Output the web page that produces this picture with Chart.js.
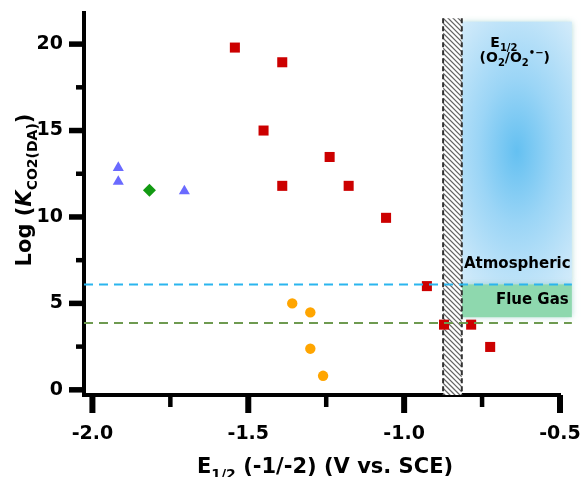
<!DOCTYPE html>
<html>
<head>
<meta charset="utf-8">
<script src="https://cdn.jsdelivr.net/npm/chart.js@4.4.1/dist/chart.umd.min.js"></script>
<style>
  html, body { margin: 0; padding: 0; background: #fff; }
  #wrap { width: 588px; height: 477px; position: relative; }
</style>
</head>
<body>
<div id="wrap"><canvas id="chart"></canvas></div>
<script>
// ---- values ----
const redX = [-1.543, -1.391, -1.451, -1.239, -1.391, -1.178, -1.058, -0.927, -0.872, -0.785, -0.724];
const redY = [19.8, 18.95, 15.0, 13.47, 11.8, 11.8, 9.95, 6.0, 3.77, 3.77, 2.48];
const blueX = [-1.917, -1.917, -1.705];
const blueY = [12.85, 12.05, 11.5];
const greenX = [-1.817];
const greenY = [11.55];
const orangeX = [-1.359, -1.301, -1.301, -1.26];
const orangeY = [5.0, 4.48, 2.38, 0.81];

const atmosphericLevel = 6.1;
const flueGasLevel = 3.87;
const flueGasBoxBottom = 4.2;
const o2BoxTop = 21.3;
const o2Band = [-0.875, -0.815];   // hatched E1/2(-1/-2) window
const o2BoxRight = -0.462;
const bandTop = 21.5;

const xTicks = [-2.0, -1.5, -1.0, -0.5];
const xMinor = [-1.75, -1.25, -0.75];
const yTicks = [0, 5, 10, 15, 20];
const yMinor = [2.5, 7.5, 12.5, 17.5];
const xRange = [-2.027, -0.5];
const yRange = [-0.3, 21.8];

const FONT = '"DejaVu Sans", "Liberation Sans", Arial, sans-serif';
const pts = (xs, ys) => xs.map((x, i) => ({ x, y: ys[i] }));

/* ---------- mixed text (sub/superscripts) ---------- */
function fontOf(r, size) {
  return `${r.i ? "italic " : ""}bold ${Math.round(size * (r.s || 1))}px ${FONT}`;
}
function drawRuns(ctx, runs, x, y, size, align) {
  let total = 0;
  runs.forEach((r) => { ctx.font = fontOf(r, size); total += ctx.measureText(r.t).width; });
  let cx = align === "center" ? x - total / 2 : align === "right" ? x - total : x;
  ctx.textAlign = "left";
  ctx.textBaseline = "alphabetic";
  runs.forEach((r) => {
    ctx.font = fontOf(r, size);
    ctx.fillText(r.t, cx, y + (r.dy || 0) * size);
    cx += ctx.measureText(r.t).width;
  });
}
const SUB = { s: 0.68, dy: 0.3 };

/* ---------- background boxes + hatched window ---------- */
const regionsPlugin = {
  id: "regions",
  beforeDatasetsDraw(chart) {
    const { ctx, scales: { x, y } } = chart;
    const bx0 = x.getPixelForValue(o2Band[1]);
    const bx1 = x.getPixelForValue(o2BoxRight);
    const top = y.getPixelForValue(o2BoxTop);
    const atm = y.getPixelForValue(atmosphericLevel);
    const flueB = y.getPixelForValue(flueGasBoxBottom);

    ctx.save();
    ctx.shadowColor = "rgba(150, 205, 200, 0.7)";
    ctx.shadowBlur = 6;
    // blue O2 region, soft radial glow
    const cx = (bx0 + bx1) / 2, cy = y.getPixelForValue(13.8);
    ctx.save();
    ctx.translate(cx, cy);
    ctx.scale(1, 1.9);
    const g = ctx.createRadialGradient(0, 0, 0, 0, 0, 85);
    g.addColorStop(0, "rgb(100, 192, 241)");
    g.addColorStop(0.45, "rgb(155, 213, 246)");
    g.addColorStop(1, "rgb(208, 234, 250)");
    ctx.fillStyle = g;
    ctx.fillRect(bx0 - cx, (top - cy) / 1.9, bx1 - bx0, (atm - top) / 1.9);
    ctx.restore();
    // flue gas band
    ctx.fillStyle = "rgb(142, 216, 174)";
    ctx.fillRect(bx0, atm, bx1 - bx0, flueB - atm);
    ctx.restore();

    // hatched window
    const hx0 = x.getPixelForValue(o2Band[0]);
    const hx1 = x.getPixelForValue(o2Band[1]);
    const hTop = y.getPixelForValue(bandTop);
    const hBot = y.getPixelForValue(yRange[0]);
    ctx.save();
    ctx.fillStyle = "#fff";
    ctx.fillRect(hx0, hTop, hx1 - hx0, hBot - hTop);
    ctx.beginPath();
    ctx.rect(hx0, hTop, hx1 - hx0, hBot - hTop);
    ctx.clip();
    ctx.strokeStyle = "#666";
    ctx.lineWidth = 1.3;
    ctx.beginPath();
    for (let k = hTop - 40; k < hBot + 40; k += 5) {
      ctx.moveTo(hx0, k);
      ctx.lineTo(hx1, k + (hx1 - hx0));
    }
    ctx.stroke();
    ctx.restore();
    ctx.save();
    ctx.strokeStyle = "#333";
    ctx.lineWidth = 2;
    ctx.setLineDash([5, 3]);
    ctx.beginPath();
    ctx.moveTo(hx0, hTop); ctx.lineTo(hx0, hBot);
    ctx.moveTo(hx1, hTop); ctx.lineTo(hx1, hBot);
    ctx.stroke();
    ctx.restore();
  },
  afterDraw(chart) {
    const { ctx, chartArea: { left, bottom }, scales: { x, y } } = chart;
    ctx.save();
    ctx.fillStyle = "#000";
    // tick marks
    yTicks.forEach((v) => { const p = y.getPixelForValue(v); ctx.fillRect(left - 15, p - 2.75, 15, 5.5); });
    yMinor.forEach((v) => { const p = y.getPixelForValue(v); ctx.fillRect(left - 8, p - 2.25, 8, 4.5); });
    xTicks.forEach((v) => { const p = x.getPixelForValue(v); ctx.fillRect(p - 3, bottom, 6, 18); });
    xMinor.forEach((v) => { const p = x.getPixelForValue(v); ctx.fillRect(p - 2.25, bottom, 4.5, 12); });

    // axis titles
    drawRuns(ctx, [{ t: "E" }, { t: "1/2", ...SUB }, { t: " (-1/-2) (V vs. SCE)" }], 325, 473, 21, "center");
    ctx.save();
    ctx.translate(31, 190);
    ctx.rotate(-Math.PI / 2);
    drawRuns(ctx, [{ t: "Log (" }, { t: "K", i: true }, { t: "CO2(DA)", ...SUB }, { t: ")" }], 0, 0, 21, "center");
    ctx.restore();

    // region labels
    drawRuns(ctx, [{ t: "E" }, { t: "1/2", ...SUB }], x.getPixelForValue(-0.68), y.getPixelForValue(19.85), 14, "center");
    drawRuns(ctx, [
      { t: "(O" }, { t: "2", ...SUB }, { t: "/O" }, { t: "2", ...SUB },
      { t: "\u2022\u2212", s: 0.68, dy: -0.38 }, { t: ")" },
    ], x.getPixelForValue(-0.645), y.getPixelForValue(18.98), 14, "center");
    drawRuns(ctx, [{ t: "Atmospheric" }], x.getPixelForValue(-0.466), y.getPixelForValue(7.06), 15, "right");
    drawRuns(ctx, [{ t: "Flue Gas" }], x.getPixelForValue(-0.472), y.getPixelForValue(4.98), 15, "right");
    ctx.restore();
  },
};

const levelLine = (level, color) => ({
  data: [{ x: xRange[0], y: level }, { x: o2BoxRight, y: level }],
  showLine: true,
  borderColor: color,
  borderWidth: 2,
  borderDash: [9, 6],
  pointRadius: 0,
  clip: false,
});

new Chart(document.getElementById("chart"), {
  type: "scatter",
  data: {
    datasets: [
      levelLine(atmosphericLevel, "#2bb5ee"),
      levelLine(flueGasLevel, "#6e9a50"),
      { data: pts(orangeX, orangeY), pointStyle: "circle", pointRadius: 5.2, backgroundColor: "#ffa500", borderWidth: 0 },
      { data: pts(blueX, blueY), pointStyle: "triangle", pointRadius: 6.4, backgroundColor: "#6a6aff", borderWidth: 0 },
      { data: pts(greenX, greenY), pointStyle: "rectRot", pointRadius: 6.5, backgroundColor: "#129a12", borderWidth: 0 },
      { data: pts(redX, redY), pointStyle: "rect", pointRadius: 7.1, backgroundColor: "#cc0000", borderWidth: 0 },
    ],
  },
  options: {
    responsive: true,
    maintainAspectRatio: false,
    animation: false,
    layout: { padding: { top: 13, right: 28, left: 0, bottom: 0 } },
    plugins: { legend: { display: false }, tooltip: { enabled: false } },
    scales: {
      x: {
        type: "linear",
        min: xRange[0],
        max: xRange[1],
        afterBuildTicks: (s) => { s.ticks = xTicks.map((v) => ({ value: v })); },
        afterFit: (s) => { s.height = 82; s.paddingLeft = 0; s.paddingRight = 0; },
        grid: { display: false, drawTicks: false },
        border: { display: true, color: "#000", width: 4 },
        ticks: {
          autoSkip: false, maxRotation: 0, minRotation: 0, padding: 28, color: "#000",
          font: { family: FONT, size: 19, weight: "bold" },
          callback: (v) => Number(v).toFixed(1),
        },
      },
      y: {
        type: "linear",
        min: yRange[0],
        max: yRange[1],
        afterBuildTicks: (s) => { s.ticks = yTicks.map((v) => ({ value: v })); },
        afterFit: (s) => { s.width = 84; s.paddingTop = 0; s.paddingBottom = 0; },
        grid: { display: false, drawTicks: false },
        border: { display: true, color: "#000", width: 4 },
        ticks: {
          padding: 21, color: "#000",
          font: { family: FONT, size: 19, weight: "bold" },
          callback: (v) => String(v),
        },
      },
    },
  },
  plugins: [regionsPlugin],
});
</script>
</body>
</html>
